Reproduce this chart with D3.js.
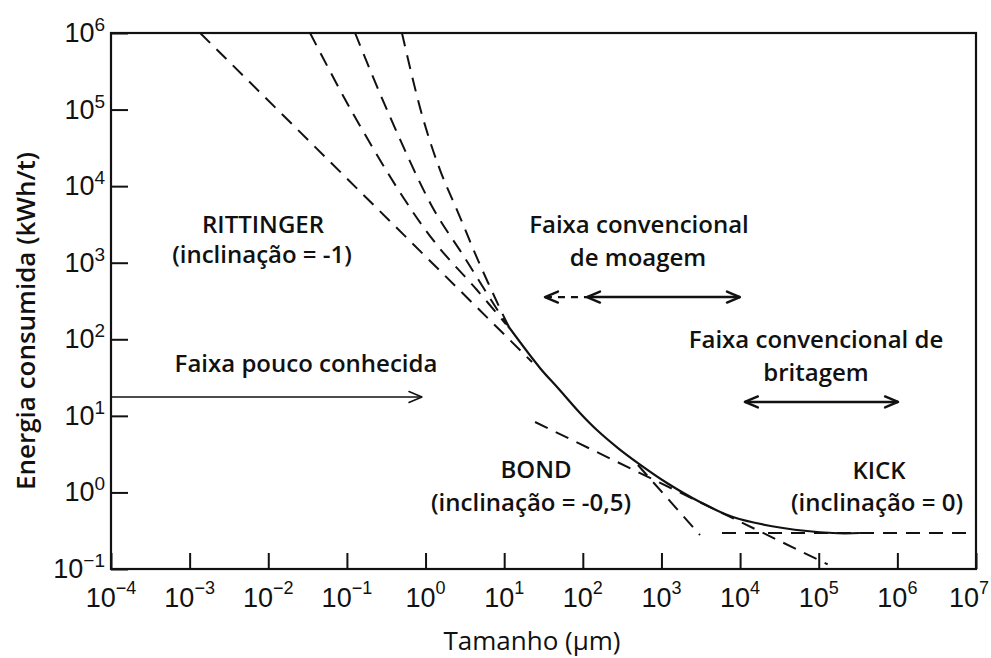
<!DOCTYPE html>
<html><head><meta charset="utf-8">
<script src="https://cdn.jsdelivr.net/npm/d3@7"></script>
<style>body{margin:0;background:#fff}svg{display:block}</style>
</head><body><svg id="c" width="991" height="658"></svg>
<script>
// ---- data (size in µm, energy in kWh/t) ----
const xTicks = [1e-4,1e-3,1e-2,1e-1,1e0,1e1,1e2,1e3,1e4,1e5,1e6,1e7];
const xTickExp = ["−4","−3","−2","−1","0","1","2","3","4","5","6","7"];
const yTicks = [1e-1,1e0,1e1,1e2,1e3,1e4,1e5,1e6];
const yTickExp = ["−1","0","1","2","3","4","5","6"];

const rittingerLine = [[0.00136,1e6],[22.6,50.5]];
const fineLineA = [[0.034,1e6],[0.109,105000],[0.516,7210],[1.40,1700],[4.51,440],[10.5,158]];
const fineLineB = [[0.127,1e6],[0.324,98700],[1.24,5190],[2.99,1260],[7.21,298],[10.9,154]];
const fineLineC = [[0.501,1e6],[0.902,84900],[1.53,16200],[2.74,3950],[4.64,1080],[9.66,208],[11.5,145]];
const energyCurve = [[11.2,149],[28.5,42.2],[48.3,23.1],[92,10.9],[151,6.53],[280,3.80],[502,2.42],[1175,1.33],[3090,0.750],[8110,0.477],[35100,0.343],[152000,0.295],[334000,0.295]];
const bondLine = [[24.7,8.31],[130000,0.115]];
const steepLine = [[502,2.28],[3090,0.278]];
const kickLine = [[5890,0.295],[1e7,0.295]];

const poucoRange = [[1e-4,17.6],[0.9,17.6]];
const moagemDashed = [[33,356],[113,356]];
const moagemRange = [[113,356],[9960,356]];
const britagemRange = [[11500,15.2],[1.02e6,15.2]];

// ---- drawing ----
const M = {left:111, right:976, top:33, bottom:569};
const svg = d3.select('#c');
const x = d3.scaleLog().domain([1e-4,1e7]).range([M.left,M.right]);
const y = d3.scaleLog().domain([1e-1,1e6]).range([M.bottom,M.top]);
const ink = '#111';
const annFont = "'Open Sans', 'Noto Sans', sans-serif";
const tickFont = "'Liberation Sans', Arial, sans-serif";

const defs = svg.append('defs');
function marker(id, w){
  defs.append('marker').attr('id',id).attr('viewBox','-16 -9 18 18')
    .attr('markerWidth',18).attr('markerHeight',18).attr('refX',0).attr('refY',0)
    .attr('markerUnits','userSpaceOnUse').attr('orient','auto-start-reverse')
    .append('path').attr('d','M-13,-5.5L0,0L-13,5.5').attr('fill','none')
    .attr('stroke',ink).attr('stroke-width',w).attr('stroke-linecap','round').attr('stroke-linejoin','round');
}
marker('aThin',1.5); marker('aThick',2.4);

// axes (inward ticks)
const gx = svg.append('g').attr('transform',`translate(0,${M.bottom})`)
  .call(d3.axisBottom(x).tickValues(xTicks).tickSize(-16).tickSizeOuter(0).tickFormat(()=>''));
gx.select('.domain').remove();
gx.selectAll('.tick line').attr('stroke',ink).attr('stroke-width',2);
const gy = svg.append('g').attr('transform',`translate(${M.left},0)`)
  .call(d3.axisLeft(y).tickValues(yTicks).tickSize(-17).tickSizeOuter(0).tickFormat(()=>''));
gy.select('.domain').remove();
gy.selectAll('.tick line').attr('stroke',ink).attr('stroke-width',2);

// frame
svg.append('rect').attr('x',M.left).attr('y',M.top).attr('width',M.right-M.left).attr('height',M.bottom-M.top)
  .attr('fill','none').attr('stroke',ink).attr('stroke-width',2.2);

// tick labels
xTicks.forEach((v,i)=>{
  const last = i === xTicks.length-1;
  const t = svg.append('text').attr('x',last ? 989 : x(v)).attr('y',M.bottom+38)
    .attr('text-anchor',last ? 'end' : 'middle')
    .attr('font-family',tickFont).attr('font-size',27).attr('fill',ink);
  t.append('tspan').text('10');
  t.append('tspan').attr('dy',-13).attr('font-size',18).text(xTickExp[i]);
});
yTicks.forEach((v,i)=>{
  const t = svg.append('text').attr('x',105).attr('y',y(v)+9).attr('text-anchor','end')
    .attr('font-family',tickFont).attr('font-size',27).attr('fill',ink);
  t.append('tspan').text('10');
  t.append('tspan').attr('dy',-11).attr('font-size',19).text(yTickExp[i]);
});

// curves
const straight = d3.line().x(d=>x(d[0])).y(d=>y(d[1]));
const smooth = d3.line().x(d=>x(d[0])).y(d=>y(d[1])).curve(d3.curveCatmullRom.alpha(0.5));
const dash = '14,9';
[[rittingerLine,straight],[fineLineA,smooth],[fineLineB,smooth],[fineLineC,smooth],
 [bondLine,straight],[steepLine,straight],[kickLine,straight]].forEach(([d,g])=>{
  svg.append('path').attr('d',g(d)).attr('fill','none').attr('stroke',ink)
    .attr('stroke-width',2).attr('stroke-dasharray',dash);
});
svg.append('path').attr('d',smooth(energyCurve)).attr('fill','none').attr('stroke',ink).attr('stroke-width',2.2);

// range arrows
svg.append('path').attr('d',straight(poucoRange)).attr('stroke',ink).attr('stroke-width',1.4)
  .attr('fill','none').attr('marker-end','url(#aThin)');
svg.append('path').attr('d',straight(moagemDashed)).attr('stroke',ink).attr('stroke-width',2.2)
  .attr('stroke-dasharray','7,6').attr('fill','none').attr('marker-start','url(#aThick)');
svg.append('path').attr('d',straight(moagemRange)).attr('stroke',ink).attr('stroke-width',2.4)
  .attr('fill','none').attr('marker-start','url(#aThick)').attr('marker-end','url(#aThick)');
svg.append('path').attr('d',straight(britagemRange)).attr('stroke',ink).attr('stroke-width',2.4)
  .attr('fill','none').attr('marker-start','url(#aThick)').attr('marker-end','url(#aThick)');

// annotations
const notes = [
  ['RITTINGER',263,233],['(inclinação = -1)',262,263],
  ['Faixa convencional',639,233],['de moagem',638,266],
  ['Faixa pouco conhecida',306,372],
  ['Faixa convencional de',816,348],['britagem',816,381],
  ['BOND',536,478],['(inclinação = -0,5)',531,511],
  ['KICK',879,479],['(inclinação = 0)',877,511]
];
notes.forEach(([s,px,py])=>{
  svg.append('text').attr('x',px).attr('y',py).attr('text-anchor','middle')
    .attr('font-family',annFont).attr('font-weight',600).attr('font-size',24).attr('fill',ink).text(s);
});

// axis titles
svg.append('text').attr('x',532).attr('y',650).attr('text-anchor','middle')
  .attr('font-family',annFont).attr('font-weight',500).attr('font-size',26).attr('fill',ink).text('Tamanho (µm)');
svg.append('text').attr('transform','translate(35,321) rotate(-90)').attr('text-anchor','middle')
  .attr('font-family',annFont).attr('font-weight',600).attr('font-size',26).attr('fill',ink).text('Energia consumida (kWh/t)');
</script></body></html>
